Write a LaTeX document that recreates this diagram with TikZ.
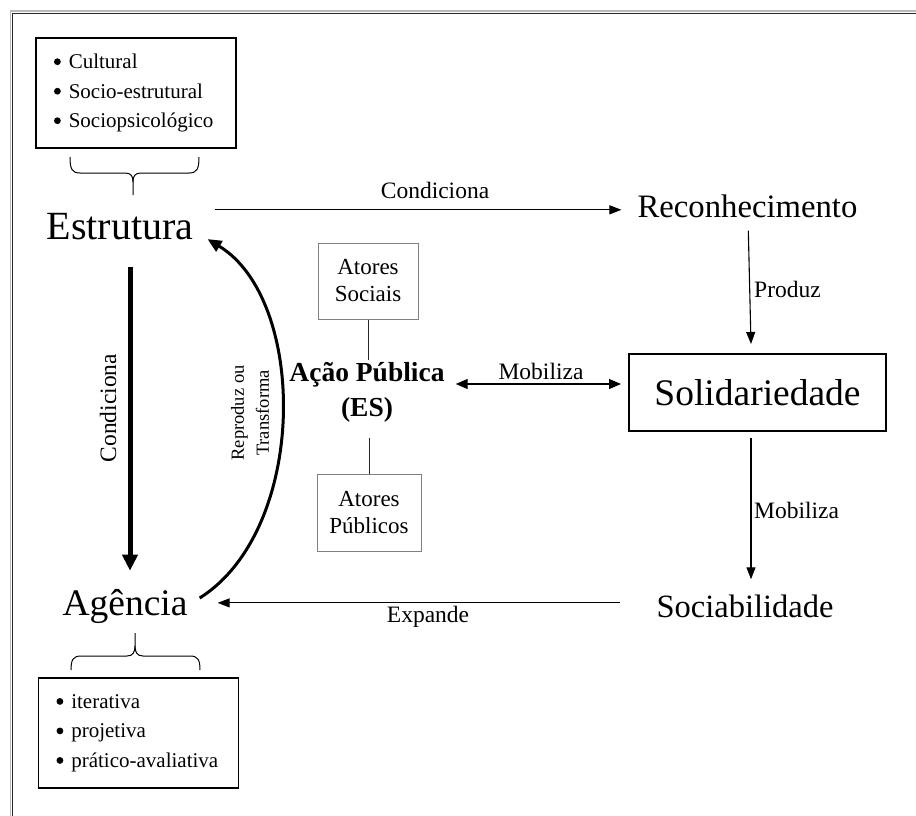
\documentclass[tikz,border=0pt]{standalone}
\usepackage{fontspec}
\setmainfont{Liberation Serif}
\usetikzlibrary{arrows.meta}
\newcommand{\blt}{\hspace*{3pt}\tikz[baseline=0pt]\fill (3.4pt,6.8pt) circle[radius=3.4pt];\hspace{8pt}}
\tikzset{
  bigword/.style={inner sep=0pt, anchor=base, font=\fontsize{#1}{#1}\selectfont},
  lbl/.style={inner sep=0pt, font=\fontsize{23.5}{23.5}\selectfont},
  listbox/.style={draw, line width=1.2pt, minimum width=200pt, minimum height=110pt, text width=170pt, align=left, font=\fontsize{21}{29.5}\selectfont},
  actorbox/.style={draw=gray, line width=1pt, align=center, font=\fontsize{23}{27}\selectfont},
  arr/.style={line width=1.1pt, -{Triangle[length=12pt,width=9pt]}},
  arrtwo/.style={line width=1.1pt, {Triangle[length=12pt,width=10pt]}-{Triangle[length=12pt,width=10pt]}},
  thickarr/.style={line width=5pt, -{Triangle[length=16pt,width=15pt]}},
  curvearr/.style={line width=3pt, -{Triangle[length=14pt,width=12pt]}},
  bracestyle/.style={line width=1pt}
}
\begin{document}
\begin{tikzpicture}[x=1pt,y=-1pt]
\useasboundingbox (0,0) rectangle (916,816);
% frame
\draw[gray!55, line width=1.2pt] (10.5,816) -- (10.5,11) -- (916,11);
\draw[black!85, line width=1.2pt] (12.8,816) -- (12.8,13.3) -- (916,13.3);

% list boxes
\node[listbox] (tl) at (136,93) {\blt Cultural\\\blt Socio-estrutural\\\blt Sociopsicológico};
\node[listbox] (bl) at (138.5,733) {\blt iterativa\\\blt projetiva\\\blt prático-avaliativa};

% braces
\draw[bracestyle] (70,157) .. controls (70,169) and (72,173) .. (80,173) -- (125,173) .. controls (131,173) and (133,176) .. (133,182) -- (133,195);
\draw[bracestyle] (133,182) .. controls (133,176) and (135,173) .. (141,173) -- (189,173) .. controls (197,173) and (199,169) .. (199,157);
\draw[bracestyle] (71,670) .. controls (71,660) and (73,656) .. (81,656) -- (127,656) .. controls (133,656) and (135,652) .. (135,646) -- (135,633);
\draw[bracestyle] (135,646) .. controls (135,652) and (137,656) .. (143,656) -- (190,656) .. controls (198,656) and (200,660) .. (200,670);

% main words
\node[bigword=40] (est) at (120,239) {Estrutura};
\node[bigword=37.5] (agen) at (125,615) {Agência};
\node[bigword=32.7] (rec) at (747.5,217) {Reconhecimento};
\node[bigword=32.5] (soc) at (745,617) {Sociabilidade};
\node[draw, line width=2pt, minimum width=257pt, minimum height=77pt, font=\fontsize{37.5}{37.5}\selectfont] (sol) at (757.5,392.5) {Solidariedade};

% actors
\node[actorbox, minimum width=100pt, minimum height=76pt] (asoc) at (368,281) {Atores\\Sociais};
\node[actorbox, minimum width=104pt, minimum height=77pt] (apub) at (369,512.5) {Atores\\Públicos};
\node[inner sep=2pt, align=center, font=\bfseries\fontsize{27.5}{35}\selectfont] (acao) at (367,392) {Ação Pública\\(ES)};

\draw[line width=1pt, gray!30!black] (asoc.south) -- (asoc.south |- acao.north);
\draw[line width=1pt, gray!30!black, shorten <=14pt] (apub.north |- acao.south) -- (apub.north);

% connectors
\draw[arr, shorten <=21pt, shorten >=16pt] ([yshift=-4pt]est.east |- rec.west) -- ([yshift=-4pt]rec.west);
\node[lbl] (lcond) at (435,190) {Condiciona};

\draw[arr, shorten <=13pt] ([xshift=0.5pt]rec.south) -- ([xshift=-6.5pt,yshift=9pt]sol.north);
\node[lbl, anchor=west] (lprod) at (754,289) {Produz};

\draw[arr] ([xshift=-6.5pt,yshift=-6pt]sol.south) -- ([xshift=6pt,yshift=15pt]soc.north);
\node[lbl, anchor=west] (lmob) at (754,510) {Mobiliza};

\coordinate (ex) at ([yshift=3pt]soc.west);
\draw[arr, shorten <=36pt, shorten >=30pt] (ex) -- (ex -| agen.east);
\node[lbl] (lexp) at (428,617) {Expande};

\coordinate (mb) at ([yshift=8pt]acao.east);
\draw[arrtwo, shorten <=9pt, shorten >=7pt] (mb) -- (mb -| sol.west);
\node[lbl] (lmob2) at (541,371) {Mobiliza};

\coordinate (cv) at ([xshift=10pt]est.south);
\draw[thickarr, shorten <=27pt, shorten >=18pt] (cv) -- (cv |- agen.north);
\node[lbl, rotate=90] (lcond2) at (108,408) {Condiciona};

\draw[curvearr] ([xshift=12pt,yshift=8pt]agen.east) .. controls (308,530) and (308,300) .. ([xshift=14pt,yshift=-13pt]est.east);
\node[inner sep=0pt, rotate=90, align=center, font=\fontsize{18.5}{25}\selectfont] (lrep) at (250,413) {Reproduz ou\\Transforma};
\end{tikzpicture}
\end{document}
